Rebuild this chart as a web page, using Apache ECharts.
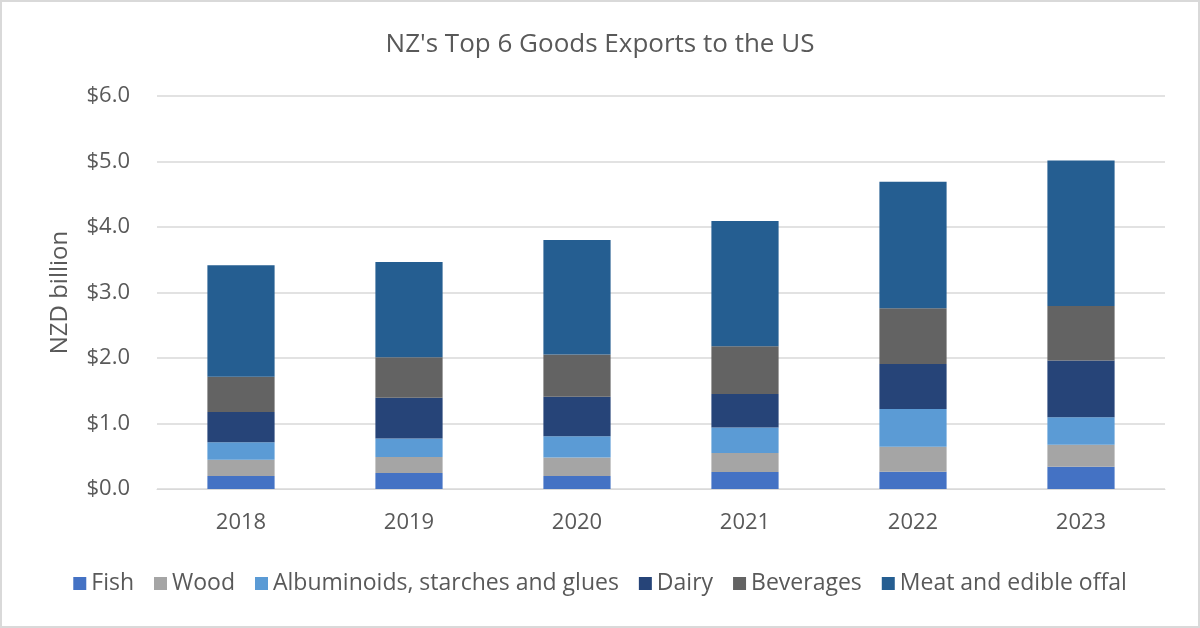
<!DOCTYPE html>
<html>
<head>
<meta charset="utf-8">
<script src="https://cdn.jsdelivr.net/npm/echarts@6/dist/echarts.min.js"></script>
<style>
html,body{margin:0;padding:0;background:#fff;}
#c{width:1200px;height:628px;}
</style>
</head>
<body>
<div id="c"></div>
<script>
const years = ['2018', '2019', '2020', '2021', '2022', '2023'];
const fish = [0.20, 0.245, 0.20, 0.26, 0.265, 0.34];
const wood = [0.245, 0.245, 0.28, 0.29, 0.38, 0.335];
const albuminoids = [0.27, 0.28, 0.325, 0.39, 0.575, 0.42];
const dairy = [0.46, 0.625, 0.605, 0.51, 0.69, 0.865];
const beverages = [0.54, 0.615, 0.645, 0.73, 0.85, 0.835];
const meat = [1.70, 1.455, 1.745, 1.91, 1.93, 2.22];
const yTicks = [0, 1, 2, 3, 4, 5, 6];

const seriesDefs = [
  ['Fish', fish, '#4472C4'],
  ['Wood', wood, '#A5A5A5'],
  ['Albuminoids, starches and glues', albuminoids, '#5B9BD5'],
  ['Dairy', dairy, '#264478'],
  ['Beverages', beverages, '#636363'],
  ['Meat and edible offal', meat, '#255E91']
];

const font = 'Open Sans';
const chart = echarts.init(document.getElementById('c'), null, {renderer: 'canvas'});
chart.setOption({
  animation: false,
  backgroundColor: '#fff',
  textStyle: {fontFamily: font},
  title: {
    text: "NZ's Top 6 Goods Exports to the US",
    left: 'center',
    top: 27,
    textStyle: {fontFamily: font, fontSize: 26, fontWeight: 'normal', color: '#595959'}
  },
  graphic: [{
    type: 'rect',
    shape: {x: 1, y: 1, width: 1198, height: 626},
    style: {fill: 'none', stroke: '#d9d9d9', lineWidth: 2},
    silent: true
  }],
  legend: {
    bottom: 28,
    left: 'center',
    itemWidth: 13,
    itemHeight: 13,
    itemGap: 20,
    icon: 'rect',
    textStyle: {fontFamily: font, fontSize: 23, color: '#595959'},
    data: seriesDefs.map(d => d[0])
  },
  grid: {left: 157, right: 35, top: 96, bottom: 139, containLabel: false},
  xAxis: {
    type: 'category',
    data: years,
    axisLine: {show: true, lineStyle: {color: '#d9d9d9', width: 1}},
    axisTick: {show: false},
    axisLabel: {fontFamily: font, fontSize: 22, color: '#595959', margin: 23}
  },
  yAxis: {
    type: 'value',
    min: yTicks[0],
    max: yTicks[yTicks.length - 1],
    interval: 1,
    name: 'NZD billion',
    nameLocation: 'middle',
    nameGap: 85,
    nameRotate: 90,
    nameTextStyle: {fontFamily: font, fontSize: 24, color: '#595959'},
    axisLine: {show: false},
    axisTick: {show: false},
    splitLine: {lineStyle: {color: '#d9d9d9', width: 1.5}},
    axisLabel: {fontFamily: font, fontSize: 22, color: '#595959', margin: 27,
      formatter: v => '$' + v.toFixed(1)}
  },
  series: seriesDefs.map(d => ({
    name: d[0],
    type: 'bar',
    stack: 'total',
    data: d[1],
    barWidth: '40%',
    itemStyle: {color: d[2]}
  }))
});
</script>
</body>
</html>
